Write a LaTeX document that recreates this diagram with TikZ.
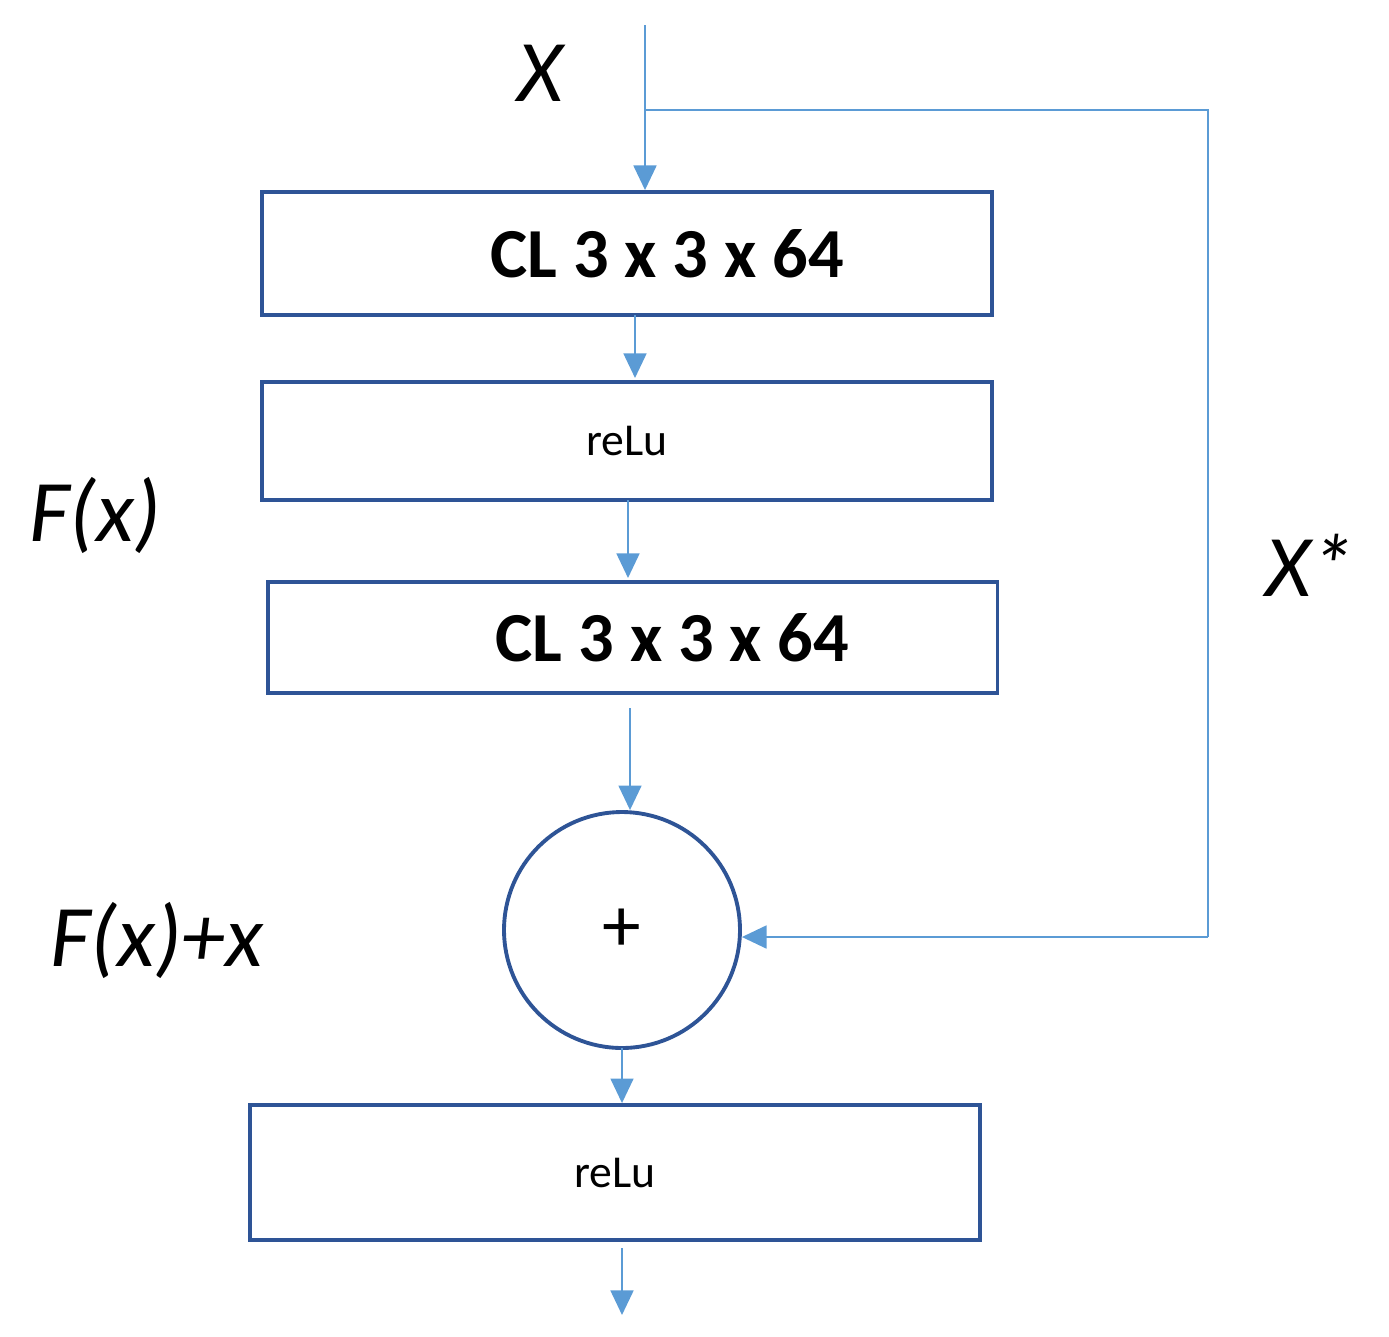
\documentclass[tikz,border=0pt]{standalone}
\usepackage{fontspec}
\setmainfont{Carlito}
\usetikzlibrary{arrows.meta}
\definecolor{ln}{RGB}{91,155,213}
\definecolor{bx}{RGB}{46,84,150}
\begin{document}
\begin{tikzpicture}[x=0.02cm,y=-0.02cm,
  box/.style={draw=bx,line width=2.2pt,minimum width=14.6cm,inner sep=0},
  arr/.style={draw=ln,line width=1.3pt,-{Triangle[length=14pt,width=13pt]}},
  lab/.style={font=\fontsize{50}{60}\selectfont\itshape}]
\useasboundingbox (0,0) rectangle (1389,1336);
\node[box,minimum height=2.46cm,font=\fontsize{40}{48}\selectfont\bfseries] (b1) at (627,253.5) {\hspace*{1.6cm}CL 3 x 3 x 64};
\node[box,minimum height=2.36cm,font=\fontsize{26}{32}\selectfont] (b2) at (627,441) {reLu};
\node[box,minimum height=2.22cm,font=\fontsize{40}{48}\selectfont\bfseries] (b3) at (632.5,637.5) {\hspace*{1.6cm}CL 3 x 3 x 64};
\node[draw=bx,line width=2.2pt,circle,minimum size=4.72cm,font=\fontsize{44}{50}\selectfont] (c) at (622,930) {+};
\node[box,minimum height=2.7cm,font=\fontsize{26}{32}\selectfont] (b4) at (615,1172.5) {reLu};
\coordinate (in) at (645,25);
\coordinate (sk) at (645,110);
\coordinate (sr) at (1208,110);
\coordinate (sb) at (1208,937);
\coordinate (out) at (622,1315);
\draw[arr] (in) -- (b1.north -| in);
\draw[ln,line width=1.3pt] (sk) -- (sr) -- (sb);
\draw[arr] (sb) -- (c.east |- sb);
\draw[arr] (635,315) -- (635,378);
\draw[arr] (628,500) -- (628,578);
\draw[arr] (630,708) -- (c.north -| 630,0);
\draw[arr] (622,1048) -- (b4.north -| 622,0);
\draw[arr] (622,1248) -- (out);
\node[lab] (lx) at (540,73) {X};
\node[lab] (lf) at (95,515) {F(x)};
\node[lab] (ls) at (1310,565) {X*};
\node[lab] (lfx) at (157,940) {F(x)+x};
\end{tikzpicture}
\end{document}
